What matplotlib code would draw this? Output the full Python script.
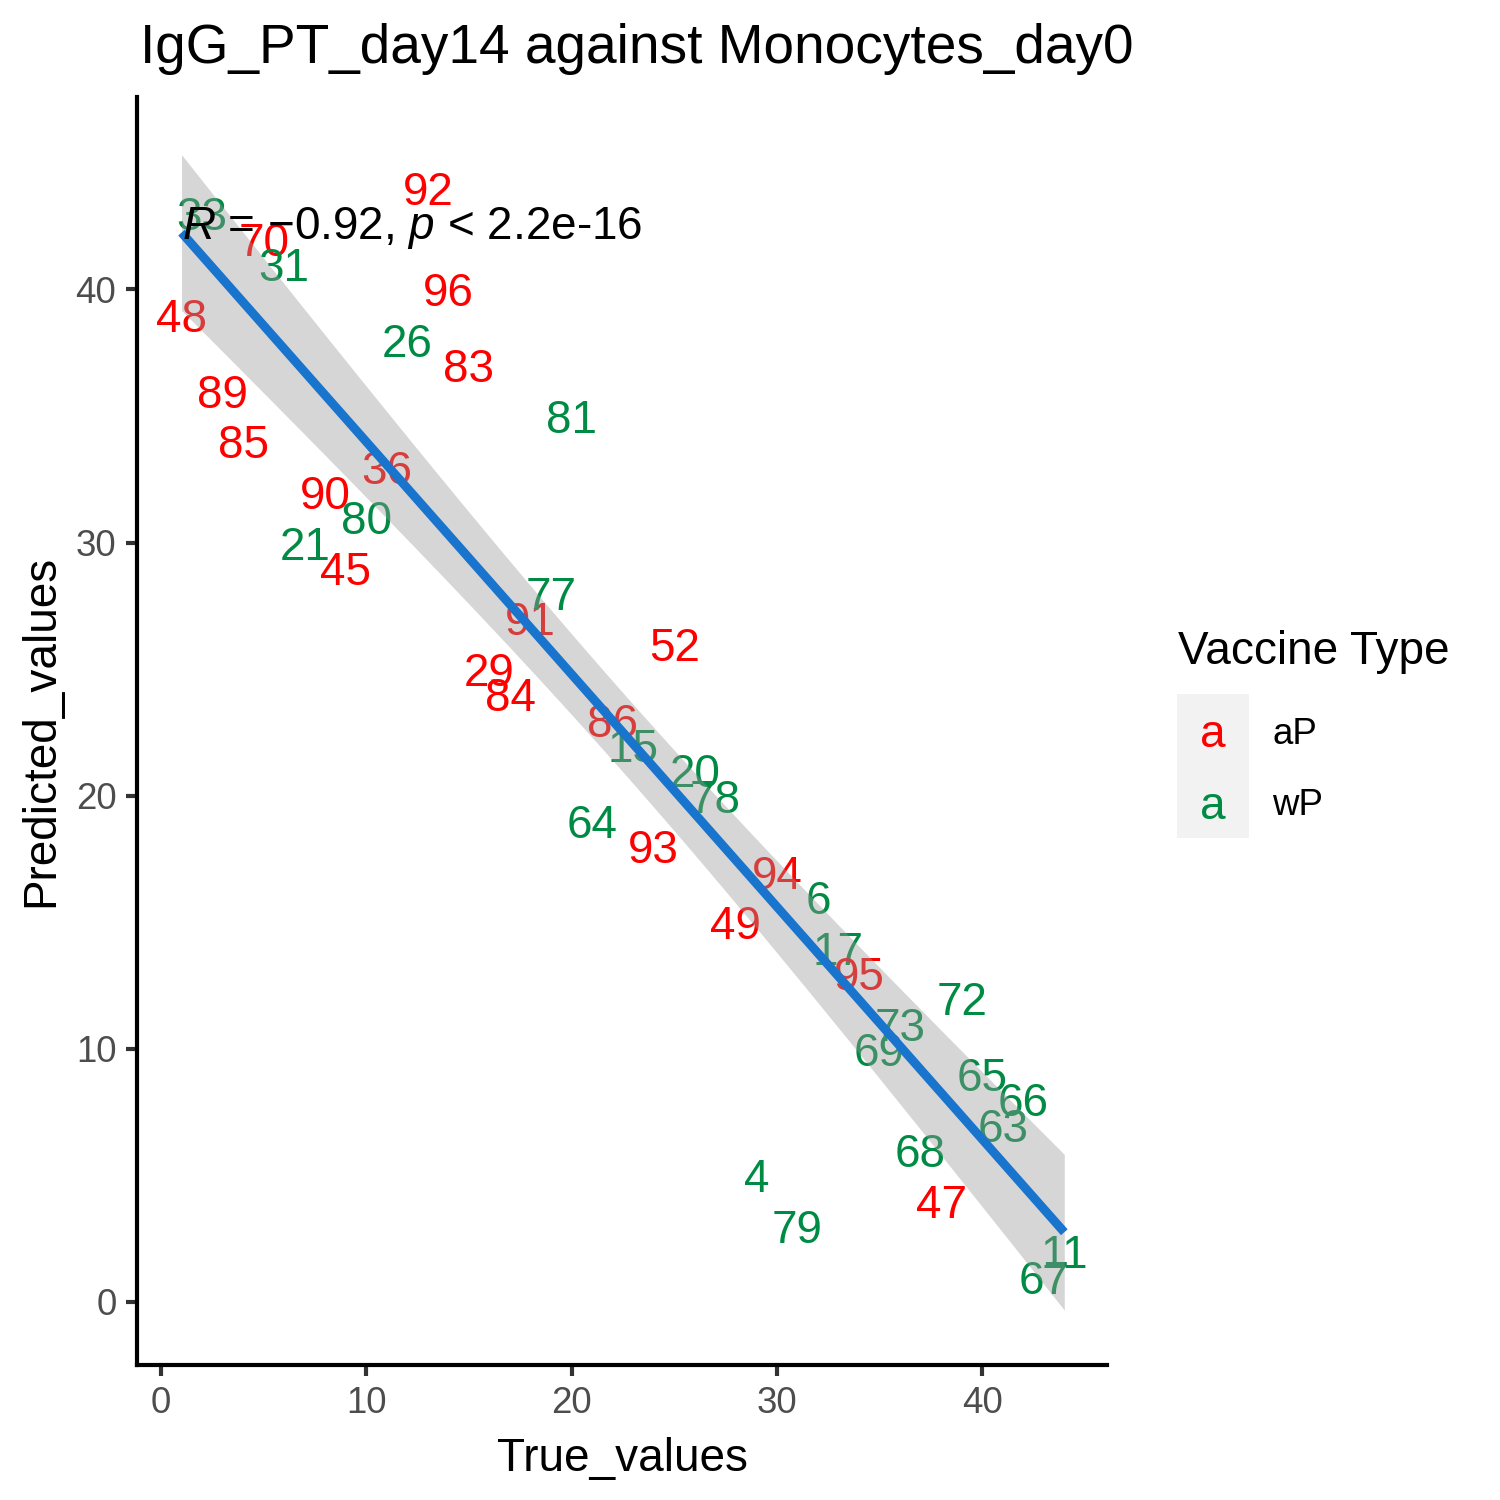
import numpy as np
import matplotlib
matplotlib.use("Agg")
import matplotlib.pyplot as plt
from matplotlib.patches import Rectangle

plt.rcParams['font.family'] = ['Liberation Sans', 'DejaVu Sans']
plt.rcParams['mathtext.fontset'] = 'custom'
plt.rcParams['mathtext.it'] = 'Liberation Sans:italic'
plt.rcParams['mathtext.rm'] = 'Liberation Sans'

# subject ids, vaccine type, true / predicted ranks
subjects = [48, 33, 89, 85, 70, 31, 21, 90, 45, 80, 36, 26, 92, 96, 83, 29, 84, 91, 77, 81, 64, 86,
            15, 93, 52, 20, 78, 49, 4, 94, 79, 6, 17, 95, 69, 73, 68, 47, 72, 65, 63, 66, 67, 11]
vaccine = ['aP', 'wP', 'aP', 'aP', 'aP', 'wP', 'wP', 'aP', 'aP', 'wP', 'aP', 'wP', 'aP', 'aP', 'aP',
           'aP', 'aP', 'aP', 'wP', 'wP', 'wP', 'aP', 'wP', 'aP', 'aP', 'wP', 'wP', 'aP', 'wP', 'aP',
           'wP', 'wP', 'wP', 'aP', 'wP', 'wP', 'wP', 'aP', 'wP', 'wP', 'wP', 'wP', 'wP', 'wP']
true_values = [1, 2, 3, 4, 5, 6, 7, 8, 9, 10, 11, 12, 13, 14, 15, 16, 17, 18, 19, 20, 21, 22,
               23, 24, 25, 26, 27, 28, 29, 30, 31, 32, 33, 34, 35, 36, 37, 38, 39, 40, 41, 42, 43, 44]
predicted_values = [39, 43, 36, 34, 42, 41, 30, 32, 29, 31, 33, 38, 44, 40, 37, 25, 24, 27, 28, 35, 19, 23,
                    22, 18, 26, 21, 20, 15, 5, 17, 3, 16, 14, 13, 10, 11, 6, 4, 12, 9, 7, 8, 1, 2]
r_text = r'$\it{R}$ = −0.92, $\it{p}$ < 2.2e-16'

colors = {'aP': '#FF0000', 'wP': '#008B45'}

x = np.array(true_values, dtype=float)
y = np.array(predicted_values, dtype=float)

# linear fit + 95% band
n = len(x)
slope, intercept = np.polyfit(x, y, 1)
resid = y - (slope * x + intercept)
s = np.sqrt(np.sum(resid ** 2) / (n - 2))
sxx = np.sum((x - x.mean()) ** 2)
xs = np.linspace(x.min(), x.max(), 80)
fit = slope * xs + intercept
se = s * np.sqrt(1 / n + (xs - x.mean()) ** 2 / sxx)
tq = 2.018

fig = plt.figure(figsize=(5, 5), dpi=300)
ax = fig.add_axes([137 / 1500, 135 / 1500, 970 / 1500, 1268 / 1500])

for xi, yi, lab, v in zip(x, y, subjects, vaccine):
    ax.text(xi, yi, str(lab), color=colors[v], fontsize=11, ha='center', va='center_baseline', zorder=2)

ax.fill_between(xs, fit - tq * se, fit + tq * se, color='#999999', alpha=0.4, lw=0, zorder=3)
ax.plot(xs, fit, color='#1874CD', lw=2.13, zorder=4, solid_capstyle='butt')

ax.text(1.0, 42.0, r_text, fontsize=11, ha='left', va='baseline', zorder=5)

ax.set_xlim(-1.17, 46.08)
ax.set_ylim(-2.49, 47.6)
ax.set_xticks([0, 10, 20, 30, 40])
ax.set_yticks([0, 10, 20, 30, 40])
for sp in ['top', 'right']:
    ax.spines[sp].set_visible(False)
for sp in ['left', 'bottom']:
    ax.spines[sp].set_linewidth(1.0)
ax.tick_params(length=2.75, width=1.0, color='#333333', labelsize=8.8, labelcolor='#4D4D4D', pad=2.2)
ax.set_xlabel('True_values', fontsize=11, labelpad=4)
ax.set_ylabel('Predicted_values', fontsize=11, labelpad=3)
fig.text(140 / 1500, 1 - 63 / 1500, 'IgG_PT_day14 against Monocytes_day0', fontsize=13.2,
         ha='left', va='baseline')

# legend
fig.text(1178 / 1500, 1 - 652 / 1500, 'Vaccine Type', fontsize=11, ha='left', va='center')
for i, v in enumerate(['aP', 'wP']):
    top = 694 + 72 * i
    fig.add_artist(Rectangle((1177 / 1500, 1 - (top + 72) / 1500), 72 / 1500, 72 / 1500,
                             transform=fig.transFigure, facecolor='#F2F2F2', edgecolor='none'))
    fig.text(1213 / 1500, 1 - (top + 36) / 1500, 'a', color=colors[v], fontsize=11,
             ha='center', va='center_baseline')
    fig.text(1272 / 1500, 1 - (top + 36) / 1500, v, fontsize=8.8, ha='left', va='center_baseline')

fig.savefig('out.png', dpi=300)
